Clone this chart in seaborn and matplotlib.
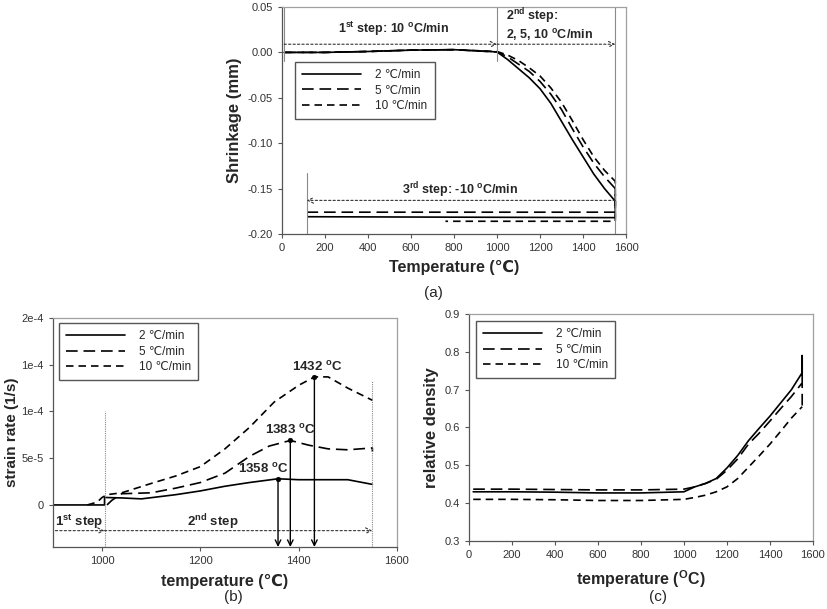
"""Sintering shrinkage, strain rate and relative density for three heating rates."""

import matplotlib.pyplot as plt
import seaborn as sns

# ---- (a) shrinkage vs temperature ----
heat_temp = [10, 200, 400, 600, 800, 1000, 1050, 1100, 1150, 1200, 1250,
             1300, 1350, 1400, 1450, 1500, 1550]
shrink_2 = [0.0, 0.0, 0.001, 0.0025, 0.003, 0.0005, -0.008, -0.018, -0.028,
            -0.040, -0.056, -0.076, -0.096, -0.115, -0.134, -0.150, -0.164]
shrink_5 = [0.0, 0.0, 0.001, 0.0025, 0.003, 0.0005, -0.005, -0.013, -0.021,
            -0.032, -0.046, -0.063, -0.084, -0.104, -0.122, -0.137, -0.150]
shrink_10 = [0.0, 0.0, 0.001, 0.0025, 0.003, 0.001, -0.003, -0.009, -0.017,
             -0.026, -0.039, -0.055, -0.075, -0.096, -0.115, -0.130, -0.142]
cool_temp_2 = [1550, 120]
cool_2 = [-0.182, -0.181]
cool_temp_5 = [1550, 120]
cool_5 = [-0.176, -0.176]
cool_temp_10 = [1550, 760]
cool_10 = [-0.186, -0.186]

# ---- (b) strain rate vs temperature ----
rate_temp_2 = [900, 1005, 1005, 1040, 1080, 1150, 1200, 1250, 1300, 1358,
               1400, 1450, 1500, 1550]
rate_2 = [0, 0, 8e-6, 7.5e-6, 6.5e-6, 1.1e-5, 1.5e-5, 2.0e-5, 2.4e-5, 2.8e-5,
          2.7e-5, 2.7e-5, 2.7e-5, 2.2e-5]
rate_temp_5 = [1010, 1020, 1040, 1100, 1150, 1200, 1250, 1300, 1340, 1383,
               1420, 1460, 1500, 1550, 1550]
rate_5 = [0, 5e-6, 1.2e-5, 1.3e-5, 1.8e-5, 2.4e-5, 3.4e-5, 5.2e-5, 6.3e-5,
          6.9e-5, 6.4e-5, 6.0e-5, 5.9e-5, 6.1e-5, 5.7e-5]
rate_temp_10 = [970, 990, 1000, 1010, 1040, 1100, 1150, 1200, 1250, 1300,
                1350, 1400, 1432, 1460, 1500, 1550]
rate_10 = [0, 3e-6, 8e-6, 1.1e-5, 1.3e-5, 2.3e-5, 3.1e-5, 4.1e-5, 6.0e-5,
           8.3e-5, 1.1e-4, 1.28e-4, 1.37e-4, 1.37e-4, 1.25e-4, 1.12e-4]
peak_temp = [1358, 1383, 1432]
peak_rate = [2.8e-5, 6.9e-5, 1.37e-4]
peak_labels = ["1358 $^{\\mathbf{o}}$C", "1383 $^{\\mathbf{o}}$C", "1432 $^{\\mathbf{o}}$C"]
b_yticks = [0, 5e-5, 1e-4, 1.5e-4, 2e-4]
b_yticklabels = ["0", "5e-5", "1e-4", "1e-4", "2e-4"]

# ---- (c) relative density vs temperature ----
dens_temp = [20, 200, 400, 600, 800, 1000, 1050, 1100, 1150, 1200, 1250,
             1300, 1350, 1400, 1450, 1500, 1550, 1550, 1550]
dens_2 = [0.430, 0.430, 0.429, 0.427, 0.427, 0.430, 0.443, 0.452, 0.465, 0.493,
          0.526, 0.565, 0.598, 0.630, 0.665, 0.700, 0.745, 0.790, 0.720]
dens_5 = [0.437, 0.437, 0.436, 0.435, 0.435, 0.437, 0.443, 0.452, 0.463, 0.487,
          0.517, 0.556, 0.585, 0.617, 0.650, 0.682, 0.718, 0.700, 0.650]
dens_10 = [0.410, 0.410, 0.409, 0.407, 0.407, 0.410, 0.415, 0.421, 0.430, 0.443,
           0.465, 0.495, 0.525, 0.556, 0.590, 0.625, 0.655, 0.655, 0.655]

rate_names = ["2 \u2103/min", "5 \u2103/min", "10 \u2103/min"]
dash_styles = ["-", (0, (7, 3.5)), (0, (4.5, 3))]

sns.set_style("white")
plt.rcParams["font.family"] = ["Liberation Sans", "DejaVu Sans"]
plt.rcParams["mathtext.fontset"] = "custom"
plt.rcParams["mathtext.rm"] = "Liberation Sans"
plt.rcParams["mathtext.bf"] = "Liberation Sans:bold"
plt.rcParams["mathtext.it"] = "Liberation Sans:italic"

GRID_GRAY = "#8a8a8a"


def style_axes(ax):
    for side in ["left", "bottom"]:
        ax.spines[side].set_color("#555555")
        ax.spines[side].set_linewidth(0.9)
    for side in ["top", "right"]:
        ax.spines[side].set_color("#a0a0a0")
        ax.spines[side].set_linewidth(0.9)
    ax.tick_params(direction="out", length=3, width=0.8, colors="#555555",
                   labelsize=8, labelcolor="#333333", left=True, bottom=True)


def draw_series(ax, xs, ys, style, label=None):
    sns.lineplot(x=xs, y=ys, ax=ax, color="black", linestyle=style, lw=1.2,
                 sort=False, estimator=None, label=label, legend=False)


def add_legend(ax, anchor):
    ax.legend(loc="upper left", bbox_to_anchor=anchor, borderaxespad=0,
              fontsize=8.5, handlelength=5, handletextpad=1.2, labelspacing=0.3,
              fancybox=False, edgecolor="#555555", framealpha=1,
              borderpad=0.6)


def dotted_arrow(ax, x0, x1, y):
    ax.annotate("", xy=(x1, y), xytext=(x0, y),
                arrowprops=dict(arrowstyle="->", color="#333333", lw=0.8,
                                linestyle=(0, (2, 2)), shrinkA=0, shrinkB=0))


fig = plt.figure(figsize=(8.27, 6.09), dpi=100)
ax_a = fig.add_axes([0.341, 0.6158, 0.416, 0.3727])
ax_b = fig.add_axes([0.064, 0.1018, 0.416, 0.376])
ax_c = fig.add_axes([0.567, 0.1117, 0.416, 0.3727])

# ---- panel (a) ----
heat_sets = [shrink_2, shrink_5, shrink_10]
cool_sets = [(cool_temp_2, cool_2), (cool_temp_5, cool_5), (cool_temp_10, cool_10)]
for name, style, heat, (ct, cv) in zip(rate_names, dash_styles, heat_sets, cool_sets):
    draw_series(ax_a, heat_temp + ct, heat + cv, style, label=name)

for x, y0, y1 in [(10, -0.01, 0.05), (1000, -0.01, 0.05), (1550, -0.2, 0.05), (115, -0.2, -0.133)]:
    ax_a.plot([x, x], [y0, y1], color=GRID_GRAY, lw=0.8)
dotted_arrow(ax_a, 10, 1000, 0.009)
dotted_arrow(ax_a, 1000, 1550, 0.009)
dotted_arrow(ax_a, 1550, 115, -0.163)

ax_a.text(520, 0.0258, "1$^{\\mathbf{st}}$ step: 10 $^{\\mathbf{o}}$C/min", ha="center",
          va="center", fontsize=9, fontweight="bold")
ax_a.text(1040, 0.0395, "2$^{\\mathbf{nd}}$ step:", ha="left", va="center",
          fontsize=9, fontweight="bold")
ax_a.text(1040, 0.0195, "2, 5, 10 $^{\\mathbf{o}}$C/min", ha="left", va="center",
          fontsize=9, fontweight="bold")
ax_a.text(830, -0.1515, "3$^{\\mathbf{rd}}$ step: -10 $^{\\mathbf{o}}$C/min", ha="center",
          va="center", fontsize=9, fontweight="bold")

ax_a.set_xlim(0, 1600)
ax_a.set_ylim(-0.2, 0.05)
ax_a.set_xticks(range(0, 1601, 200))
ax_a.set_yticks([0.05, 0.0, -0.05, -0.1, -0.15, -0.2])
ax_a.set_yticklabels(["0.05", "0.00", "-0.05", "-0.10", "-0.15", "-0.20"])
ax_a.set_xlabel("Temperature (\u2103)", fontsize=11.5, fontweight="bold", labelpad=5)
ax_a.set_ylabel("Shrinkage (mm)", fontsize=12, fontweight="bold", labelpad=4)
style_axes(ax_a)
add_legend(ax_a, (0.038, 0.758))

# ---- panel (b) ----
b_sets = [(rate_temp_2, rate_2), (rate_temp_5, rate_5), (rate_temp_10, rate_10)]
for name, style, (xs, ys) in zip(rate_names, dash_styles, b_sets):
    draw_series(ax_b, xs, ys, style, label=name)

b_bottom = -4.5e-5
for x, y1 in [(1005, 1.0e-4), (1550, 1.33e-4)]:
    ax_b.plot([x, x], [b_bottom, y1], color=GRID_GRAY, lw=0.8, linestyle=(0, (1, 1)))
dotted_arrow(ax_b, 905, 1005, -2.75e-5)
dotted_arrow(ax_b, 1005, 1550, -2.75e-5)
ax_b.text(905, -1.85e-5, "1$^{\\mathbf{st}}$ step", va="center", fontsize=9.5,
          fontweight="bold")
ax_b.text(1225, -1.85e-5, "2$^{\\mathbf{nd}}$ step", ha="center", va="center",
          fontsize=9.5, fontweight="bold")

sns.scatterplot(x=peak_temp, y=peak_rate, ax=ax_b, color="black", s=12,
                edgecolor="black", legend=False, zorder=5)
label_shift = [-30, 0, 5]
for t, r, lab, dx in zip(peak_temp, peak_rate, peak_labels, label_shift):
    ax_b.annotate("", xy=(t, b_bottom), xytext=(t, r),
                  arrowprops=dict(arrowstyle="->", color="black", lw=1.0,
                                  shrinkA=0, shrinkB=0))
    ax_b.text(t + dx, r + 3.5e-6, lab, ha="center", va="bottom", fontsize=9.5,
              fontweight="bold")

ax_b.set_xlim(900, 1600)
ax_b.set_ylim(b_bottom, 2e-4)
ax_b.set_xticks([1000, 1200, 1400, 1600])
ax_b.set_yticks(b_yticks)
ax_b.set_yticklabels(b_yticklabels)
ax_b.set_xlabel("temperature (\u2103)", fontsize=11.5, fontweight="bold", labelpad=6)
ax_b.set_ylabel("strain rate (1/s)", fontsize=11, fontweight="bold", labelpad=2)
style_axes(ax_b)
add_legend(ax_b, (0.017, 0.978))

# ---- panel (c) ----
for name, style, ys in zip(rate_names, dash_styles, [dens_2, dens_5, dens_10]):
    draw_series(ax_c, dens_temp, ys, style, label=name)

ax_c.set_xlim(0, 1600)
ax_c.set_ylim(0.3, 0.9)
ax_c.set_xticks(range(0, 1601, 200))
ax_c.set_yticks([0.3, 0.4, 0.5, 0.6, 0.7, 0.8, 0.9])
ax_c.set_xlabel("temperature ($^{\\mathbf{O}}$C)", fontsize=11.5, fontweight="bold", labelpad=6)
ax_c.set_ylabel("relative density", fontsize=12, fontweight="bold", labelpad=4)
style_axes(ax_c)
add_legend(ax_c, (0.02, 0.969))

fig.text(433 / 827, 1 - 293 / 609, "(a)", ha="center", va="center", fontsize=11)
fig.text(233 / 827, 1 - 597 / 609, "(b)", ha="center", va="center", fontsize=11)
fig.text(658 / 827, 1 - 597 / 609, "(c)", ha="center", va="center", fontsize=11)

fig.savefig("out.png", dpi=100)
